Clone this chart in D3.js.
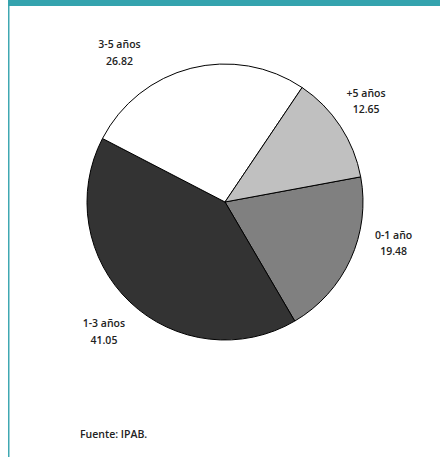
<!DOCTYPE html>
<html>
<head>
<meta charset="utf-8">
<script src="https://cdn.jsdelivr.net/npm/d3@7"></script>
<style>
  html, body { margin: 0; padding: 0; background: #fff; }
  svg { display: block; font-family: "Open Sans", sans-serif; }
</style>
</head>
<body>
<div id="chart"></div>
<script>
// data
const categories = ["0-1 año", "1-3 años", "3-5 años", "+5 años"];
const values = [19.48, 41.05, 26.82, 12.65];
const colors = ["#808080", "#333333", "#ffffff", "#c0c0c0"];
const source = "Fuente: IPAB.";

const W = 440, H = 457;
const cx = 225, cy = 202, radius = 138;
// label nudges (px) from the outer centroid, roughly Excel's "best fit" spots
const labelNudge = [[14, -30], [-4, 6], [-63.5, 15], [-1, -8]];

const svg = d3.select("#chart").append("svg")
    .attr("width", W).attr("height", H);

// frame: teal band at top + thin line down the left
svg.append("rect").attr("x", 8).attr("y", 0).attr("width", W - 8).attr("height", 6).attr("fill", "#34a3ae");
svg.append("rect").attr("x", 8).attr("y", 6).attr("width", 1.5).attr("height", H - 6).attr("fill", "#40a8b2");

const pie = d3.pie().sort(null)
    .startAngle(79.5 * Math.PI / 180)
    .endAngle(79.5 * Math.PI / 180 + 2 * Math.PI);
const arcs = pie(values);

const arc = d3.arc().innerRadius(0).outerRadius(radius);
const labelArc = d3.arc().innerRadius(170).outerRadius(170);

const g = svg.append("g").attr("transform", `translate(${cx},${cy})`);

g.selectAll("path.slice")
  .data(arcs)
  .enter().append("path")
    .attr("class", "slice")
    .attr("d", arc)
    .attr("fill", (d, i) => colors[i])
    .attr("stroke", "#000")
    .attr("stroke-width", 1)
    .attr("stroke-linejoin", "round");

const labels = g.selectAll("text.lbl")
  .data(arcs)
  .enter().append("text")
    .attr("class", "lbl")
    .attr("text-anchor", "middle")
    .attr("font-size", 10.5)
    .attr("font-weight", 600)
    .attr("fill", "#222")
    .attr("transform", (d, i) => {
      const [x, y] = labelArc.centroid(d);
      return `translate(${x + labelNudge[i][0]},${y + labelNudge[i][1]})`;
    });
labels.append("tspan").attr("x", 0).attr("y", -4).text((d, i) => categories[i]);
labels.append("tspan").attr("x", 0).attr("y", 12.5).text(d => d.data.toFixed(2));

svg.append("text")
    .attr("x", 80).attr("y", 438)
    .attr("font-size", 10.5)
    .attr("font-weight", 600)
    .attr("fill", "#222")
    .text(source);
</script>
</body>
</html>
